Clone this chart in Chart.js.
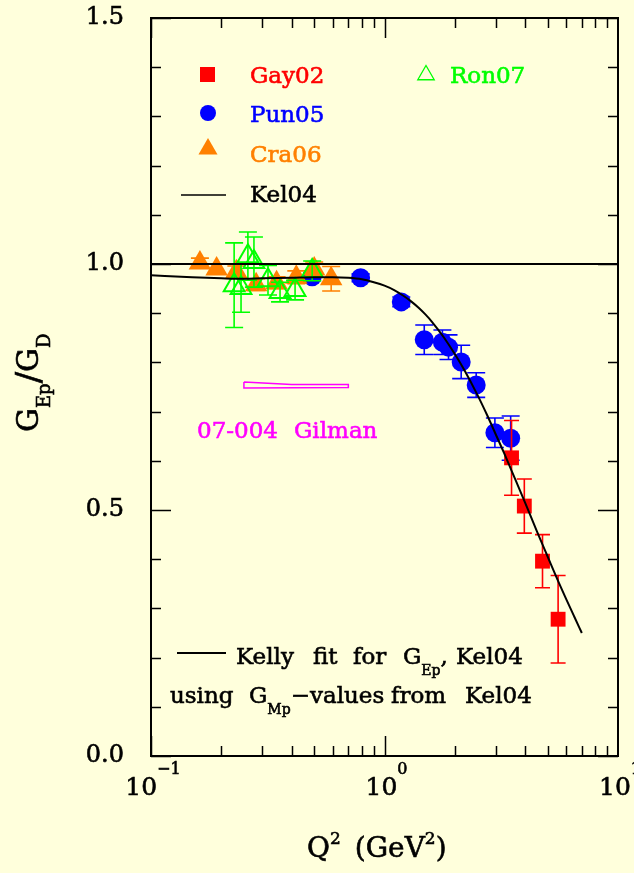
<!DOCTYPE html>
<html>
<head>
<meta charset="utf-8">
<script src="https://cdn.jsdelivr.net/npm/chart.js@4.4.1/dist/chart.umd.min.js"></script>
<style>
  html, body { margin: 0; padding: 0; background: #FFFFDC; }
  canvas { display: block; }
</style>
</head>
<body>
<canvas id="c" width="634" height="873"></canvas>
<script>
// Proton electric form factor ratio G_Ep/G_D versus Q^2 (GeV^2)

// Gay02 (recoil polarization)
const gay02Q2    = [3.50, 3.97, 4.75, 5.54];
const gay02Ratio = [0.606, 0.508, 0.396, 0.278];
const gay02Err   = [0.076, 0.055, 0.054, 0.089];

// Pun05
const pun05Q2    = [0.49, 0.79, 1.18, 1.48, 1.77, 1.88, 2.13, 2.47, 2.97, 3.47];
const pun05Ratio = [0.974, 0.972, 0.923, 0.846, 0.841, 0.831, 0.801, 0.754, 0.657, 0.646];
const pun05Err   = [0.008, 0.008, 0.010, 0.030, 0.025, 0.025, 0.034, 0.025, 0.030, 0.045];

// Cra06
const cra06Q2    = [0.162, 0.191, 0.232, 0.282, 0.345, 0.419, 0.500, 0.591];
const cra06Ratio = [1.002, 0.990, 0.984, 0.958, 0.962, 0.973, 0.990, 0.970];
const cra06Err   = [0.010, 0.010, 0.012, 0.012, 0.012, 0.013, 0.014, 0.025];

// Ron07
const ron07Q2    = [0.227, 0.243, 0.260, 0.276, 0.317, 0.357, 0.414, 0.490];
const ron07Ratio = [0.957, 0.951, 1.016, 1.004, 0.967, 0.943, 0.947, 0.986];
const ron07Err   = [0.086, 0.049, 0.049, 0.051, 0.030, 0.020, 0.020, 0.020];

// Kelly fit (Kel04) for G_Ep, divided by the dipole
const kellyQ2    = [0.10, 0.15, 0.20, 0.25, 0.30, 0.40, 0.50, 0.60, 0.70, 0.80, 0.90, 1.00,
                    1.10, 1.20, 1.30, 1.40, 1.50, 1.60, 1.70, 1.80, 2.00, 2.20, 2.50, 2.75,
                    3.00, 3.25, 3.50, 4.00, 4.50, 5.00, 5.50, 6.00, 6.50, 7.00];
const kellyRatio = [0.977, 0.973, 0.971, 0.970, 0.971, 0.972, 0.973, 0.973, 0.972, 0.969, 0.963, 0.956,
                    0.947, 0.936, 0.924, 0.911, 0.897, 0.882, 0.866, 0.850, 0.817, 0.784, 0.734, 0.693,
                    0.653, 0.616, 0.580, 0.515, 0.456, 0.405, 0.359, 0.319, 0.283, 0.250];

// Unity reference line
const unityQ2    = [0.1, 10];
const unityRatio = [1.0, 1.0];

// Projected range of experiment 07-004 (Gilman)
const gilmanQ2    = [0.25, 0.40, 0.70, 0.70, 0.25, 0.25];
const gilmanRatio = [0.760, 0.755, 0.755, 0.749, 0.748, 0.760];

// Axis ticks
const yTickValues = [0.0, 0.5, 1.0, 1.5];
const yTickLabels = ['0.0', '0.5', '1.0', '1.5'];
const xTickValues = [0.1, 1, 10];
const xTickExponents = ['\u22121', '0', '1'];

const FONT = '"DejaVu Serif", serif';
const COL = {
  red: '#FF0000', blue: '#0000FF', orange: '#FF8000',
  green: '#00FF00', magenta: '#FF00FF', black: '#000000'
};

const pts = (xs, ys) => xs.map((x, i) => ({ x: x, y: ys[i] }));

// Slightly heavier text: fill plus a thin outline in the same colour
function txt(ctx, s, x, y) {
  ctx.fillText(s, x, y);
  ctx.save();
  ctx.strokeStyle = ctx.fillStyle;
  ctx.lineWidth = 0.6;
  ctx.strokeText(s, x, y);
  ctx.restore();
}

// Vertical error bars with caps, drawn just below each marker set
const errorBars = {
  id: 'errorBars',
  beforeDatasetDraw(chart, args) {
    const ds = chart.data.datasets[args.index];
    if (!ds.errors) return;
    const ctx = chart.ctx, xs = chart.scales.x, ys = chart.scales.y;
    ctx.save();
    ctx.strokeStyle = ds.errColor;
    ctx.lineWidth = 1.6;
    ctx.beginPath();
    ds.data.forEach((p, i) => {
      const px = xs.getPixelForValue(p.x);
      const yHi = ys.getPixelForValue(p.y + ds.errors[i]);
      const yLo = ys.getPixelForValue(p.y - ds.errors[i]);
      const w = ds.capHalf;
      ctx.moveTo(px, yLo); ctx.lineTo(px, yHi);
      ctx.moveTo(px - w, yLo); ctx.lineTo(px + w, yLo);
      ctx.moveTo(px - w, yHi); ctx.lineTo(px + w, yHi);
    });
    ctx.stroke();
    ctx.restore();
  }
};

// Box frame with inward ticks on all four sides
const frame = {
  id: 'frame',
  afterDatasetsDraw(chart) {
    const { ctx, chartArea: a, scales: { x, y } } = chart;
    ctx.save();
    ctx.strokeStyle = '#000';
    ctx.lineWidth = 2;
    ctx.strokeRect(a.left, a.top, a.right - a.left, a.bottom - a.top);
    ctx.lineWidth = 1.5;
    ctx.beginPath();
    for (let k = 0; k <= 15; k++) {
      const py = Math.round(y.getPixelForValue(k / 10)) + 0.5;
      const len = (k % 5 === 0) ? 20 : 10;
      ctx.moveTo(a.left, py); ctx.lineTo(a.left + len, py);
      ctx.moveTo(a.right, py); ctx.lineTo(a.right - len, py);
    }
    for (let d = -1; d <= 0; d++) {
      for (let m = 1; m <= 9; m++) {
        const px = Math.round(x.getPixelForValue(m * Math.pow(10, d))) + 0.5;
        const len = (m === 1) ? 20 : 10;
        ctx.moveTo(px, a.bottom); ctx.lineTo(px, a.bottom - len);
        ctx.moveTo(px, a.top); ctx.lineTo(px, a.top + len);
      }
    }
    ctx.stroke();
    ctx.restore();
  }
};

// Draws a sequence of text runs (for sub/superscripts)
function runs(ctx, x, y, parts) {
  parts.forEach(p => {
    ctx.font = `${p.s}px ${FONT}`;
    const px = (p.x !== undefined) ? p.x : x;
    txt(ctx, p.t, px, y + (p.dy || 0));
    x = px + ctx.measureText(p.t).width + (p.gap || 0);
  });
}
function runsWidth(ctx, parts) {
  let w = 0;
  parts.forEach(p => { ctx.font = `${p.s}px ${FONT}`; w += ctx.measureText(p.t).width + (p.gap || 0); });
  return w;
}

function triangle(ctx, cx, cy, r) {
  ctx.beginPath();
  ctx.moveTo(cx, cy - r);
  ctx.lineTo(cx + r * 0.866, cy + r / 2);
  ctx.lineTo(cx - r * 0.866, cy + r / 2);
  ctx.closePath();
}

// Tick labels, titles, legend and annotations
const texts = {
  id: 'texts',
  afterDraw(chart) {
    const { ctx, scales: { x, y } } = chart;
    ctx.save();
    ctx.fillStyle = '#000';

    // y tick labels
    ctx.font = `24px ${FONT}`;
    ctx.textAlign = 'right';
    ctx.textBaseline = 'middle';
    yTickValues.forEach((v, i) => txt(ctx, yTickLabels[i], 124, y.getPixelForValue(v)));
    ctx.textAlign = 'left';
    ctx.textBaseline = 'alphabetic';

    // x tick labels 10^n
    xTickValues.forEach((v, i) => {
      const parts = [{ t: '10', s: 25 }, { t: xTickExponents[i], s: 16, dy: -21 }];
      const w = runsWidth(ctx, parts);
      runs(ctx, x.getPixelForValue(v) - w / 2 + 2, 795, parts);
    });

    // x title
    runs(ctx, 307, 857, [
      { t: 'Q', s: 28 }, { t: '2', s: 17, dy: -13, gap: 14 },
      { t: '(GeV', s: 28 }, { t: '2', s: 17, dy: -13 }, { t: ')', s: 28 }
    ]);

    // y title, rotated
    ctx.save();
    ctx.translate(38, 432);
    ctx.rotate(-Math.PI / 2);
    runs(ctx, 0, 0, [
      { t: 'G', s: 30 }, { t: 'Ep', s: 18, dy: 12 }, { t: '/', s: 34, dy: 2 },
      { t: 'G', s: 30 }, { t: 'D', s: 18, dy: 12 }
    ]);
    ctx.restore();

    // legend
    ctx.font = `23px ${FONT}`;
    ctx.fillStyle = COL.red;   ctx.fillRect(200, 67, 15, 15);
    txt(ctx, 'Gay02', 250, 83);
    ctx.fillStyle = COL.blue;
    ctx.beginPath(); ctx.arc(208, 113, 8, 0, Math.PI * 2); ctx.fill();
    txt(ctx, 'Pun05', 250, 122);
    ctx.fillStyle = COL.orange;
    triangle(ctx, 208, 149, 11); ctx.fill();
    txt(ctx, 'Cra06', 250, 162);
    ctx.fillStyle = COL.black;
    txt(ctx, 'Kel04', 250, 202);
    ctx.strokeStyle = COL.black; ctx.lineWidth = 1.5;
    ctx.beginPath(); ctx.moveTo(181, 195); ctx.lineTo(226, 195); ctx.stroke();
    ctx.strokeStyle = COL.green; ctx.lineWidth = 1.3;
    triangle(ctx, 426, 75, 9.5); ctx.stroke();
    ctx.fillStyle = COL.green;
    txt(ctx, 'Ron07', 450, 83);

    // 07-004 label
    ctx.fillStyle = COL.magenta;
    txt(ctx, '07-004', 197, 438);
    txt(ctx, 'Gilman', 294, 438);

    // fit annotation
    ctx.fillStyle = COL.black;
    ctx.strokeStyle = COL.black; ctx.lineWidth = 2;
    ctx.beginPath(); ctx.moveTo(177, 653); ctx.lineTo(226, 653); ctx.stroke();
    runs(ctx, 0, 664, [
      { t: 'Kelly', s: 23, x: 236 }, { t: 'fit', s: 23, x: 313 }, { t: 'for', s: 23, x: 353 },
      { t: 'G', s: 23, x: 403 }, { t: 'Ep', s: 14, dy: 11 }, { t: ',', s: 23 },
      { t: 'Kel04', s: 23, x: 456 }
    ]);
    runs(ctx, 0, 703, [
      { t: 'using', s: 23, x: 170 }, { t: 'G', s: 23, x: 249 }, { t: 'Mp', s: 14, dy: 11 },
      { t: '\u2212values', s: 23 }, { t: 'from', s: 23, x: 391 }, { t: 'Kel04', s: 23, x: 465 }
    ]);

    ctx.restore();
  }
};

new Chart(document.getElementById('c'), {
  type: 'scatter',
  data: {
    datasets: [
      {
        label: 'unity', data: pts(unityQ2, unityRatio), showLine: true,
        borderColor: COL.black, borderWidth: 2, pointRadius: 0, order: 0
      },
      {
        label: 'Kel04', data: pts(kellyQ2, kellyRatio), showLine: true,
        borderColor: COL.black, borderWidth: 2, pointRadius: 0,
        cubicInterpolationMode: 'monotone', order: 1
      },
      {
        label: '07-004 Gilman', data: pts(gilmanQ2, gilmanRatio), showLine: true,
        borderColor: COL.magenta, borderWidth: 1.5, pointRadius: 0, order: 2
      },
      {
        label: 'Ron07', data: pts(ron07Q2, ron07Ratio), errors: ron07Err,
        errColor: COL.green, capHalf: 9,
        pointStyle: 'triangle', pointRadius: 12, borderWidth: 2,
        borderColor: COL.green, backgroundColor: 'rgba(0,0,0,0)', order: 3
      },
      {
        label: 'Cra06', data: pts(cra06Q2, cra06Ratio), errors: cra06Err,
        errColor: COL.orange, capHalf: 9,
        pointStyle: 'triangle', pointRadius: 13, borderWidth: 0,
        borderColor: COL.orange, backgroundColor: COL.orange, order: 5
      },
      {
        label: 'Gay02', data: pts(gay02Q2, gay02Ratio), errors: gay02Err,
        errColor: COL.red, capHalf: 7.5,
        pointStyle: 'rect', pointRadius: 10.5, borderWidth: 0,
        borderColor: COL.red, backgroundColor: COL.red, order: 4
      },
      {
        label: 'Pun05', data: pts(pun05Q2, pun05Ratio), errors: pun05Err,
        errColor: COL.blue, capHalf: 9,
        pointStyle: 'circle', pointRadius: 9.5, borderWidth: 0,
        borderColor: COL.blue, backgroundColor: COL.blue, order: 6
      }
    ]
  },
  options: {
    responsive: false,
    animation: false,
    devicePixelRatio: 1,
    layout: { padding: { left: 151, right: 16, top: 18, bottom: 117 } },
    plugins: { legend: { display: false }, tooltip: { enabled: false } },
    scales: {
      x: { type: 'logarithmic', min: 0.1, max: 10, display: false },
      y: { type: 'linear', min: 0, max: 1.5, display: false }
    }
  },
  plugins: [errorBars, frame, texts]
});
</script>
</body>
</html>
